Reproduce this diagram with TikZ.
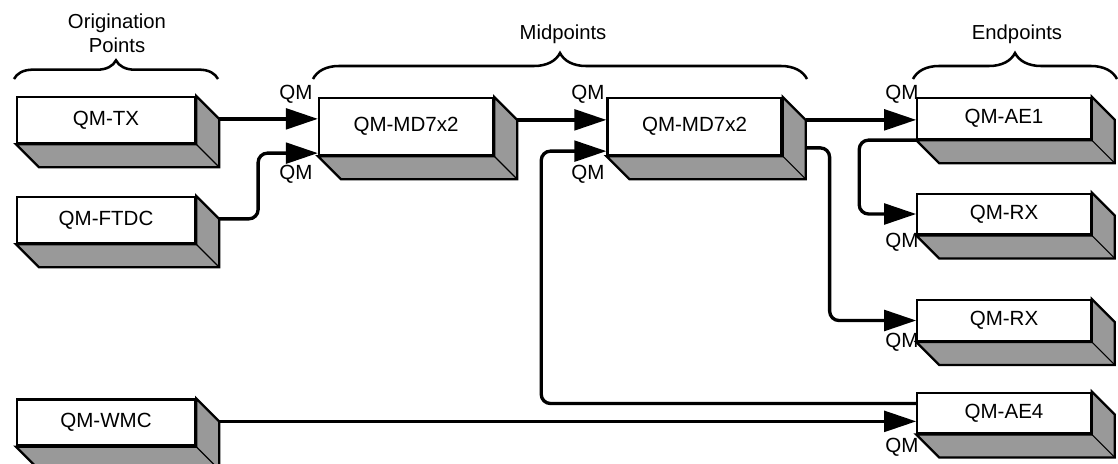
\documentclass[tikz,border=0pt]{standalone}
\usepackage{fontspec}
\setmainfont{Liberation Sans}
\usetikzlibrary{arrows.meta,calc,decorations.pathreplacing}
\definecolor{facegray}{HTML}{999999}

\begin{document}
\begin{tikzpicture}[
  x=0.75pt, y=-0.75pt,
  qbox/.style={draw, line width=1.7pt, fill=white, inner sep=0pt,
               font=\fontsize{15.4}{18}\selectfont},
  face/.style={draw, line width=1.7pt, fill=facegray},
  conn/.style={line width=2.5pt, rounded corners=7pt,
               -{Triangle[length=24pt,width=15.5pt]}},
  qm/.style={font=\fontsize{15.4}{18}\selectfont, inner sep=0pt},
  grp/.style={font=\fontsize{15.2}{18}\selectfont, align=center, inner sep=0pt},
  brc/.style={decorate, line width=1.9pt, decoration={brace, amplitude=#1}},
]
\useasboundingbox (0,0) rectangle (1118,464);

% ---- Origination points ----
\node[qbox, minimum width=133.5pt, minimum height=34.5pt] (tx) at (106,120) {QM-TX};
\node[qbox, minimum width=133.5pt, minimum height=34.5pt] (ftdc) at (106,220) {QM-FTDC};
\node[qbox, minimum width=133.5pt, minimum height=34.5pt] (wmc) at (106,422.5) {QM-WMC};

% ---- Midpoints ----
\node[qbox, minimum width=130.5pt, minimum height=42.75pt] (mda) at (406,126.5) {QM-MD7x2};
\node[qbox, minimum width=130.5pt, minimum height=42.75pt] (mdb) at (694.5,126.5) {QM-MD7x2};

% ---- Endpoints ----
\node[qbox, minimum width=130pt, minimum height=30.75pt] (ae1) at (1004,118.5) {QM-AE1};
\node[qbox, minimum width=130pt, minimum height=30.5pt] (rxa) at (1004,214) {QM-RX};
\node[qbox, minimum width=130pt, minimum height=30.5pt] (rxb) at (1004,320.5) {QM-RX};
\node[qbox, minimum width=130pt, minimum height=30.5pt] (aefour) at (1004,413) {QM-AE4};

% shaded depth faces
\foreach \n in {tx,ftdc,wmc,mda,mdb,ae1,rxa,rxb,aefour} {
  \draw[face] (\n.north east) -- ++(23,23) -- ([shift={(23,23)}]\n.south east)
    -- ([shift={(23,23)}]\n.south west) -- (\n.south west) -- (\n.south east) -- cycle;
  \draw[line width=0.8pt] (\n.south east) -- ++(23,23);
  \coordinate (\n-b) at ([shift={(23,23)}]\n.north east);
}

% ---- Connectors ----
\draw[conn] (tx-b) -- (tx-b -| mda.west);
\draw[conn] (ftdc-b) -- ++(39,0) |- ($(mda.south west)+(0,-3)$);
\draw[conn] (mda-b) -- (mda-b -| mdb.west);
\draw[conn] (mdb-b) -- (mdb-b -| ae1.west);
\draw[conn] ($(mdb-b)+(0,28)$) -- ++(24,0) |- (rxb.west);
\draw[conn] (ae1.south west) -- ++(-57,0) |- (rxa.west);
\draw[conn] ($(aefour.north west)+(0,12)$) -- ++(-375,0) |- ($(mdb.south west)+(0,-5)$);
\draw[conn] (wmc-b) -- (wmc-b -| aefour.west);

% ---- QM labels ----
\node[qm] (qm1) at (296,94) {QM};
\node[qm] (qm2) at (296,174) {QM};
\node[qm] (qm3) at (588,94) {QM};
\node[qm] (qm4) at (588,174) {QM};
\node[qm] (qm5) at (902,94) {QM};
\node[qm] (qm6) at (902,242) {QM};
\node[qm] (qm7) at (902,342) {QM};
\node[qm] (qm8) at (902,447) {QM};

% ---- Group braces ----
\draw[brc=14pt] (14,79) -- (218,79);
\draw[brc=19.5pt] (313,79) -- (807,79);
\draw[brc=19.5pt] (913,79) -- (1117,79);
\node[grp, anchor=south] (orig) at (117,53) {Origination\\Points};
\node[grp, anchor=base] (mid) at (563,39) {Midpoints};
\node[grp, anchor=base] (endp) at (1017,39) {Endpoints};

\end{tikzpicture}
\end{document}
